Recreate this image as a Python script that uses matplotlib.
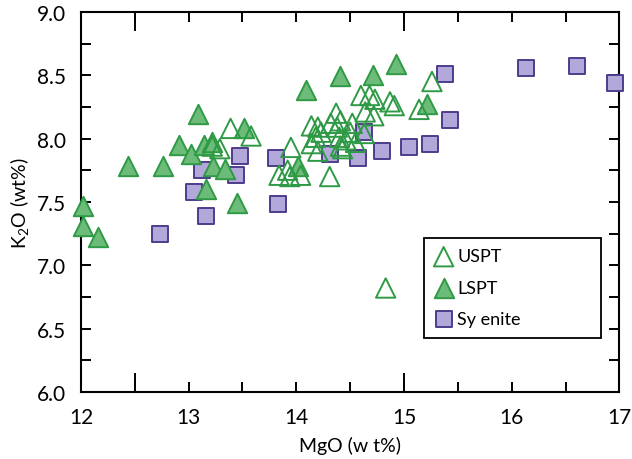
import numpy as np
import matplotlib
matplotlib.use("Agg")
import matplotlib.pyplot as plt
from matplotlib.ticker import FixedLocator, NullFormatter, FuncFormatter

plt.rcParams['font.family'] = ['Lato', 'DejaVu Sans']
plt.rcParams['mathtext.default'] = 'regular'

# USPT (open triangles)
uspt_mgo = [13.22, 13.29, 13.39, 13.58, 13.84, 13.92, 13.94, 14.04, 13.95,
            14.14, 14.20, 14.23, 14.18, 14.14, 14.20, 14.32, 14.38, 14.40,
            14.43, 14.31, 14.37, 14.41, 14.52, 14.50, 14.46, 14.55, 14.41,
            14.60, 14.68, 14.73, 14.87, 14.91, 14.64, 14.72, 15.14, 15.26,
            14.83, 14.63]
uspt_k2o = [7.94, 7.92, 8.08, 8.02, 7.71, 7.75, 7.70, 7.71, 7.93,
            8.10, 8.09, 8.05, 8.01, 7.96, 7.90, 8.12, 8.09, 8.01,
            7.92, 7.70, 8.20, 8.14, 8.12, 8.05, 7.99, 7.97, 7.94,
            8.34, 8.34, 8.31, 8.29, 8.26, 8.21, 8.18, 8.23, 8.45,
            6.82, 8.04]

# LSPT (filled triangles)
lspt_mgo = [12.02, 12.02, 12.16, 12.44, 12.76, 13.09, 12.91, 13.02, 13.14,
            13.22, 13.23, 13.34, 13.16, 13.45, 13.51, 14.02, 14.09, 14.41,
            14.71, 14.93, 15.21]
lspt_k2o = [7.47, 7.31, 7.22, 7.78, 7.78, 8.19, 7.95, 7.88, 7.95,
            7.97, 7.78, 7.76, 7.60, 7.49, 8.08, 7.78, 8.38, 8.49,
            8.50, 8.59, 8.27]

# Syenite (squares)
sy_mgo = [13.12, 13.48, 13.05, 13.44, 13.16, 13.81, 13.83, 12.73, 14.31,
          14.57, 14.63, 14.80, 15.05, 15.24, 15.43, 15.38, 16.13, 16.61, 16.96]
sy_k2o = [7.75, 7.86, 7.58, 7.71, 7.39, 7.85, 7.48, 7.25, 7.88,
          7.85, 8.05, 7.90, 7.93, 7.96, 8.15, 8.51, 8.56, 8.57, 8.44]

green_edge = '#2f9a45'
green_fill = '#6dbb78'
purple_edge = '#4e3c8c'
purple_fill = '#b2a8da'

fig = plt.figure(figsize=(6.32, 4.6), dpi=100)
ax = fig.add_axes([0.128, 0.146, 0.852, 0.826])

ax.scatter(sy_mgo, sy_k2o, marker='s', s=140, facecolor=purple_fill,
           edgecolor=purple_edge, linewidth=1.4, label='Sy enite', zorder=3, clip_on=False)
ax.scatter(lspt_mgo, lspt_k2o, marker='^', s=195, facecolor=green_fill,
           edgecolor=green_edge, linewidth=1.4, label='LSPT', zorder=4, clip_on=False)
ax.scatter(uspt_mgo, uspt_k2o, marker='^', s=195, facecolor='none',
           edgecolor=green_edge, linewidth=1.4, label='USPT', zorder=5, clip_on=False)

ax.set_xlim(12, 17)
ax.set_ylim(6.0, 9.0)

# x: long ticks at 12.5 and 15, short ticks every 0.5, labels on integers
ax.xaxis.remove_overlapping_locs = False
ax.xaxis.set_major_locator(FixedLocator([12.5, 15]))
ax.xaxis.set_major_formatter(NullFormatter())
ax.xaxis.set_minor_locator(FixedLocator(np.arange(12, 17.01, 0.5)))
ax.xaxis.set_minor_formatter(FuncFormatter(lambda v, p: '%d' % v if abs(v - round(v)) < 1e-6 else ''))

ax.set_yticks(np.arange(6.0, 9.01, 0.5))
ax.set_yticklabels(['%.1f' % v for v in np.arange(6.0, 9.01, 0.5)])
ax.set_yticks(np.arange(6.0, 9.01, 0.25), minor=True)

ax.tick_params(axis='x', which='major', direction='in', length=14, width=1.4,
               top=True, bottom=True)
ax.tick_params(axis='x', which='minor', direction='in', length=7, width=1.4,
               top=True, bottom=True, labelsize=15, pad=11, colors='black')
ax.tick_params(axis='y', which='both', direction='in', length=7, width=1.4,
               left=True, right=True, labelsize=15, pad=11)

for sp in ax.spines.values():
    sp.set_linewidth(1.5)

ax.set_xlabel('MgO (w t%)', fontsize=14, labelpad=6)
ax.set_ylabel('K$_2$O (wt%)', fontsize=14, labelpad=4)

h, l = ax.get_legend_handles_labels()
order = [2, 1, 0]
leg = ax.legend([h[i] for i in order], [l[i] for i in order],
                loc='lower left', bbox_to_anchor=(0.62, 0.118, 0.363, 0.282),
                mode='expand', fontsize=13, frameon=True, fancybox=False,
                edgecolor='black', framealpha=1, labelspacing=0.85,
                handlelength=1.0, handletextpad=0.25, borderpad=0.6)
leg.get_frame().set_linewidth(1.3)

fig.savefig('out.png', dpi=100)
